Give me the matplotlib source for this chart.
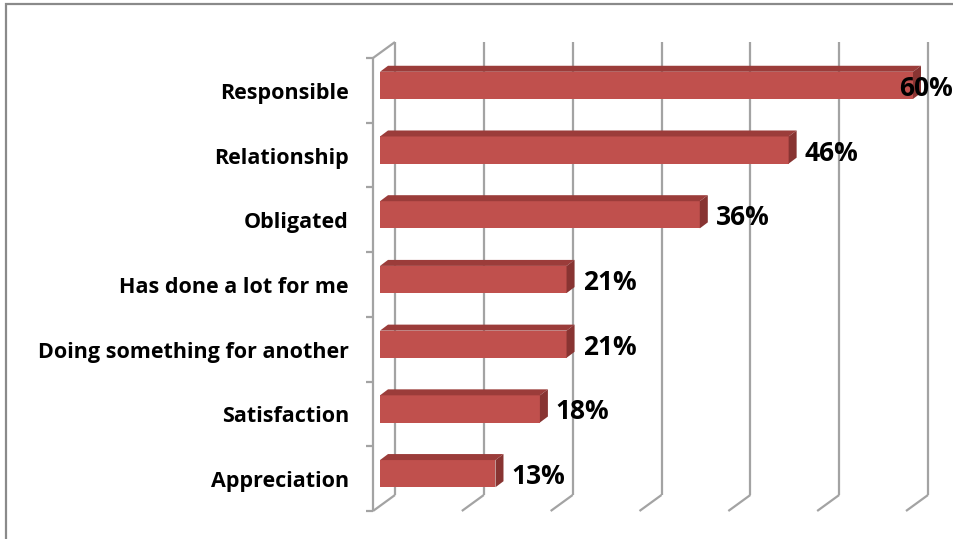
import matplotlib
matplotlib.use("Agg")
import matplotlib.pyplot as plt
from matplotlib.patches import Polygon, Rectangle
from matplotlib.lines import Line2D

# Reasons given, share of respondents (%)
categories = ["Responsible", "Relationship", "Obligated", "Has done a lot for me",
              "Doing something for another", "Satisfaction", "Appreciation"]
values = [60, 46, 36, 21, 21, 18, 13]
value_labels = ["60%", "46%", "36%", "21%", "21%", "18%", "13%"]
x_ticks = [0, 10, 20, 30, 40, 50, 60]

FONT = ["Open Sans", "DejaVu Sans"]
FACE = "#C0504D"
TOP = "#9B3C3A"
SIDE = "#883432"
GRID = "#A3A3A3"

W, H, DPI = 954, 539, 100
fig = plt.figure(figsize=(W / DPI, H / DPI), dpi=DPI)
fig.patch.set_facecolor("white")

# outer chart frame (only the top and left edges fall inside the image)
fig.add_artist(Rectangle((6.5 / W, -0.1), 1.2, 1.1 - 4.5 / H, transform=fig.transFigure,
                         fill=False, edgecolor="#8A8A8A", linewidth=1.6))

# axes holds the plane of the bar front faces
left_px, right_px, top_px, bottom_px = 380, 913, 53, 506
ax = fig.add_axes([left_px / W, 1 - bottom_px / H,
                   (right_px - left_px) / W, (bottom_px - top_px) / H])
ax.set_xlim(0, 60)
ax.set_ylim(len(categories) - 0.5, -0.5)
ax.axis("off")

# depth offsets in display pixels (x right, y up) relative to the bar front plane
FRONT = (-7, -5)
BAR_BACK = (8, 6)
BACK = (15, 11)


def shift(pt, off):
    """Data point moved by a display-pixel offset, returned in data coords."""
    disp = ax.transData.transform(pt)
    return tuple(ax.transData.inverted().transform((disp[0] + off[0], disp[1] + off[1])))


ymin, ymax = -0.5, len(categories) - 0.5
line_kw = dict(color=GRID, linewidth=1.6, solid_capstyle="butt", zorder=1, clip_on=False)

# back wall gridlines and the floor diagonals
for t in x_ticks:
    top_b = shift((t, ymin), BACK)
    bot_b = shift((t, ymax), BACK)
    bot_f = shift((t, ymax), FRONT)
    ax.add_line(Line2D([top_b[0], bot_b[0]], [top_b[1], bot_b[1]], **line_kw))
    ax.add_line(Line2D([bot_b[0], bot_f[0]], [bot_b[1], bot_f[1]], **line_kw))

# left wall: front edge, top diagonal and category tick marks
ft = shift((0, ymin), FRONT)
fb = shift((0, ymax), FRONT)
bt = shift((0, ymin), BACK)
ax.add_line(Line2D([ft[0], fb[0]], [ft[1], fb[1]], **line_kw))
ax.add_line(Line2D([ft[0], bt[0]], [ft[1], bt[1]], **line_kw))
for k in range(len(categories) + 1):
    p = shift((0, ymin + k), FRONT)
    q = shift((0, ymin + k), (FRONT[0] - 7, FRONT[1]))
    ax.add_line(Line2D([q[0], p[0]], [q[1], p[1]], **line_kw))

# bars: front face, top face and right side face
bar_h = 0.42
for i, v in enumerate(values):
    y0, y1 = i - bar_h / 2, i + bar_h / 2
    ax.barh(i, v, height=bar_h, color=FACE, edgecolor="none", zorder=3)
    top_face = [(0, y0), (v, y0), shift((v, y0), BAR_BACK), shift((0, y0), BAR_BACK)]
    side_face = [(v, y0), (v, y1), shift((v, y1), BAR_BACK), shift((v, y0), BAR_BACK)]
    ax.add_patch(Polygon(top_face, closed=True, facecolor=TOP, edgecolor="none",
                         zorder=3, clip_on=False))
    ax.add_patch(Polygon(side_face, closed=True, facecolor=SIDE, edgecolor="none",
                         zorder=3, clip_on=False))

# value labels to the right of each bar, kept inside the chart
for i, (v, lab) in enumerate(zip(values, value_labels)):
    disp = ax.transData.transform((v, i))
    x_disp = min(disp[0] + 16, W - 55)
    xd, yd = ax.transData.inverted().transform((x_disp, disp[1] - 3))
    ax.text(xd, yd, lab, ha="left", va="center", fontsize=19, fontweight="bold",
            family=FONT, color="black", zorder=5, clip_on=False)

# category labels, right aligned against the left wall
for i, cat in enumerate(categories):
    p = shift((0, i), FRONT)
    disp = ax.transData.transform(p)
    xd, yd = ax.transData.inverted().transform((disp[0] - 24, disp[1] - 3))
    ax.text(xd, yd, cat, ha="right", va="center", fontsize=15.5, fontweight="bold",
            family=FONT, color="black", clip_on=False)

fig.savefig("out.png", dpi=DPI)
